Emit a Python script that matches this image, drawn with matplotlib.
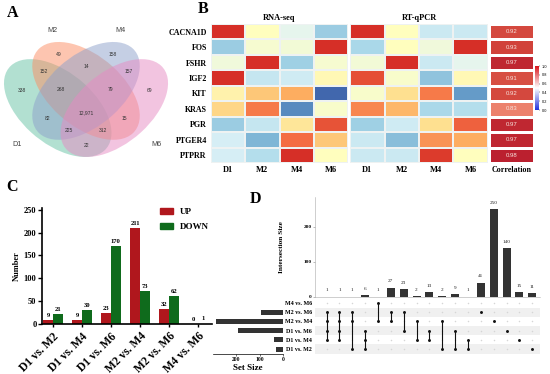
import numpy as np
import matplotlib
matplotlib.use('Agg')
import matplotlib.pyplot as plt
from matplotlib.patches import Ellipse, Patch
from matplotlib.colors import LinearSegmentedColormap, Normalize
import matplotlib.colorbar as mcolorbar

plt.rcParams['font.family'] = ['Liberation Serif', 'DejaVu Serif']
plt.rcParams['font.weight'] = 'bold'
plt.rcParams['axes.labelweight'] = 'bold'

# ---------------- data ----------------
venn_sets = ['D1', 'M2', 'M4', 'M6']
venn_regions = [(1, 0, 0, 0), (0, 1, 0, 0), (0, 0, 1, 0), (0, 0, 0, 1),
                (1, 1, 0, 0), (0, 1, 1, 0), (0, 0, 1, 1), (1, 1, 1, 0),
                (0, 1, 1, 1), (1, 1, 1, 1), (1, 0, 1, 0), (0, 1, 0, 1),
                (1, 0, 1, 1), (1, 1, 0, 1), (1, 0, 0, 1)]
venn_counts = [338, 49, 158, 69, 152, 14, 157, 268, 79, 12971, 82, 15, 225, 312, 22]

heat_genes = ['CACNA1D', 'FOS', 'FSHR', 'IGF2', 'KIT', 'KRAS', 'PGR', 'PTGER4', 'PTPRR']
heat_samples = ['D1', 'M2', 'M4', 'M6']
rnaseq = [[0.90, 0.50, 0.42, 0.27],
          [0.27, 0.47, 0.46, 0.90],
          [0.45, 0.90, 0.28, 0.47],
          [0.90, 0.35, 0.37, 0.52],
          [0.54, 0.65, 0.70, 0.08],
          [0.62, 0.78, 0.14, 0.48],
          [0.27, 0.35, 0.58, 0.84],
          [0.38, 0.22, 0.80, 0.65],
          [0.38, 0.32, 0.90, 0.50]]
rtqpcr = [[0.90, 0.50, 0.36, 0.36],
          [0.30, 0.50, 0.45, 0.90],
          [0.46, 0.90, 0.36, 0.42],
          [0.85, 0.48, 0.25, 0.52],
          [0.48, 0.60, 0.78, 0.17],
          [0.76, 0.68, 0.30, 0.32],
          [0.28, 0.37, 0.60, 0.82],
          [0.36, 0.24, 0.74, 0.70],
          [0.36, 0.36, 0.88, 0.50]]
correlation = [0.92, 0.93, 0.97, 0.91, 0.92, 0.83, 0.97, 0.97, 0.98]

deg_comparisons = ['D1 vs. M2', 'D1 vs. M4', 'D1 vs. M6', 'M2 vs. M4', 'M2 vs. M6', 'M4 vs. M6']
deg_up = [9, 9, 23, 211, 32, 0]
deg_down = [21, 30, 170, 73, 62, 1]

upset_sets = ['D1 vs. M2', 'D1 vs. M4', 'D1 vs. M6', 'M2 vs. M4', 'M2 vs. M6', 'M4 vs. M6']
set_sizes = [30, 39, 193, 284, 94, 1]
upset_members = [
    ['M2 vs. M6', 'M2 vs. M4', 'D1 vs. M6', 'D1 vs. M4'],
    ['M2 vs. M6', 'M2 vs. M4', 'D1 vs. M6', 'D1 vs. M4'],
    ['M2 vs. M6', 'M2 vs. M4', 'D1 vs. M2'],
    ['D1 vs. M6', 'D1 vs. M4', 'D1 vs. M2'],
    ['M4 vs. M6', 'M2 vs. M4'],
    ['M2 vs. M6', 'M2 vs. M4'],
    ['M2 vs. M6', 'D1 vs. M6'],
    ['M2 vs. M4', 'D1 vs. M4'],
    ['D1 vs. M6', 'D1 vs. M4'],
    ['M2 vs. M4', 'D1 vs. M2'],
    ['D1 vs. M6', 'D1 vs. M2'],
    ['D1 vs. M4', 'D1 vs. M2'],
    ['M2 vs. M6'], ['M2 vs. M4'], ['D1 vs. M6'], ['D1 vs. M4'], ['D1 vs. M2']]
upset_sizes = [1, 1, 1, 6, 1, 27, 23, 2, 13, 2, 9, 1, 41, 250, 140, 15, 11]

# ---------------- figure ----------------
W, H = 550, 374
fig = plt.figure(figsize=(W / 100, H / 100), dpi=100)


def ax_px(l, t, w, h):
    return fig.add_axes([l / W, 1 - (t + h) / H, w / W, h / H])


# ---------------- Panel A : Venn ----------------
axA = ax_px(0, 0, 195, 190)
axA.set_xlim(0.0438, 1.078)
axA.set_ylim(-0.0076, 1.0997)
axA.axis('off')
venn_colors = ['#66c2a5', '#fc8d62', '#8da0cb', '#e78ac3']
ell_geom = [((0.35, 0.47), -45), ((0.50, 0.57), -45), ((0.50, 0.57), 45), ((0.65, 0.47), 45)]
ea, eb = 0.35, 0.20
for (c, ang), col in zip(ell_geom, venn_colors):
    axA.add_patch(Ellipse(c, 2 * ea, 2 * eb, angle=ang, facecolor=col, alpha=0.5, lw=0))


def inside(X, Y, c, ang):
    t = np.deg2rad(ang)
    dx, dy = X - c[0], Y - c[1]
    u = dx * np.cos(t) + dy * np.sin(t)
    v = -dx * np.sin(t) + dy * np.cos(t)
    return (u / ea) ** 2 + (v / eb) ** 2 <= 1


gx = np.linspace(0, 1, 377)
gy = np.linspace(0, 1, 343)
GX, GY = np.meshgrid(gx, gy)
masks = [inside(GX, GY, c, a) for c, a in ell_geom]
for reg, n in zip(venn_regions, venn_counts):
    m = np.ones_like(GX, dtype=bool)
    for k, f in enumerate(reg):
        m &= masks[k] if f else ~masks[k]
    prev = m
    while m.any():
        prev = m
        e = m.copy()
        e[1:, :] &= m[:-1, :]
        e[:-1, :] &= m[1:, :]
        e[:, 1:] &= m[:, :-1]
        e[:, :-1] &= m[:, 1:]
        e[0, :] = e[-1, :] = False
        e[:, 0] = e[:, -1] = False
        m = e
    axA.text(GX[prev].mean(), GY[prev].mean(), f'{n:,}', ha='center', va='center',
             fontsize=3.6, family='Liberation Sans', fontweight='normal', color='#333333')

for name, (tx, ty) in zip(venn_sets, [(0.085, 0.237), (0.267, 0.837), (0.62, 0.837), (0.80, 0.237)]):
    axA.text(tx, ty, name, transform=axA.transAxes, ha='center', va='center',
             fontsize=5.2, family='Liberation Sans', fontweight='normal', color='#444444')

# ---------------- Panel B : heatmap ----------------
cmap_h = plt.get_cmap('RdYlBu_r')
axR = ax_px(211, 24, 137, 139)
axQ = ax_px(350, 24, 138, 139)
axK = ax_px(489, 24, 45, 139)
for ax, dat, title in [(axR, rnaseq, 'RNA-seq'), (axQ, rtqpcr, 'RT-qPCR')]:
    ax.pcolormesh(np.array(dat), cmap=cmap_h, vmin=0, vmax=1, edgecolors='#eef2f2', linewidth=0.3)
    ax.set_ylim(len(heat_genes), 0)
    ax.set_xticks(np.arange(len(heat_samples)) + 0.5)
    ax.set_xticklabels(heat_samples, fontsize=6)
    ax.set_yticks([])
    ax.tick_params(length=0, pad=2)
    ax.set_title(title, fontsize=6, pad=3, fontweight='bold')
    for s in ax.spines.values():
        s.set_visible(False)
axR.set_yticks(np.arange(len(heat_genes)) + 0.5)
axR.set_yticklabels(heat_genes, fontsize=5.8)
axR.tick_params(axis='y', length=0, pad=3)

cmap_c = LinearSegmentedColormap.from_list('corr', ['#f4a08a', '#e8735e', '#d2443b', '#b3132a'])
axK.pcolormesh(np.array(correlation).reshape(-1, 1), cmap=cmap_c, vmin=0.78, vmax=1.0,
               edgecolors='white', linewidth=0.8)
axK.set_ylim(len(heat_genes), 0)
for i, v in enumerate(correlation):
    axK.text(0.5, i + 0.5, f'{v:.2f}', ha='center', va='center', fontsize=4.3,
             family='Liberation Sans', fontweight='normal', color='#f6e2dc')
axK.set_xticks([0.5])
axK.set_xticklabels(['Correlation'], fontsize=5.8)
axK.set_yticks([])
axK.tick_params(length=0, pad=2)
for s in axK.spines.values():
    s.set_visible(False)

cax = ax_px(535, 66, 4, 44)
cmap_bar = LinearSegmentedColormap.from_list('cb', ['#2233dd', '#ffffff', '#d8141c'])
cb = mcolorbar.ColorbarBase(cax, cmap=cmap_bar, norm=Normalize(0, 1), ticks=np.arange(0, 1.01, 0.2))
cb.outline.set_visible(False)
cax.tick_params(labelsize=2.8, length=1, width=0.3, pad=1)
cax.set_yticklabels([f'{t:.1f}' for t in np.arange(0, 1.01, 0.2)], fontweight='normal',
                    family='Liberation Sans')

# ---------------- Panel C : bar chart ----------------
up_col, down_col = '#b0171d', '#0f6b1c'
axC = ax_px(42, 208, 170, 116)
x = np.arange(len(deg_comparisons))
bw = 0.33
b1 = axC.bar(x - bw / 2, deg_up, bw, color=up_col, label='UP')
b2 = axC.bar(x + bw / 2, deg_down, bw, color=down_col, label='DOWN')
axC.bar_label(b1, padding=1.5, fontsize=4.8)
axC.bar_label(b2, padding=1.5, fontsize=4.8)
axC.set_xlim(-0.38, 5.48)
axC.set_ylim(0, 254)
axC.set_yticks(np.arange(0, 251, 50))
axC.set_xticks(x)
axC.set_xticklabels(deg_comparisons, rotation=45, ha='right', rotation_mode='anchor', fontsize=8.3)
axC.tick_params(axis='y', labelsize=6, length=3, width=1, pad=1)
axC.tick_params(axis='x', length=2.5, width=1, pad=2)
for s in ['top', 'right']:
    axC.spines[s].set_visible(False)
for s in ['left', 'bottom']:
    axC.spines[s].set_linewidth(1.2)
axC.set_ylabel('Number', fontsize=6, labelpad=2)
axC.legend(handles=[Patch(color=up_col), Patch(color=down_col)], labels=['UP', 'DOWN'],
           loc='upper left', bbox_to_anchor=(0.694, 1.0), frameon=False, fontsize=6.5,
           handlelength=1.45, handleheight=0.6, labelspacing=0.75, handletextpad=0.75,
           borderpad=0, borderaxespad=0)

# ---------------- Panel D : UpSet ----------------
ncol = len(upset_sizes)
xl = (-0.9, ncol - 0.4)
axI = ax_px(315, 197, 225, 100)
cols = np.arange(ncol)
bI = axI.bar(cols, upset_sizes, 0.62, color='#333333')
axI.bar_label(bI, padding=3, fontsize=3.8, fontweight='normal', color='#222222')
axI.set_xlim(*xl)
axI.set_ylim(0, 285)
axI.set_yticks([0, 100, 200])
axI.set_xticks([])
axI.tick_params(axis='y', labelsize=3.8, length=1.5, width=0.4, pad=1, color='#888888')
for s in ['top', 'right']:
    axI.spines[s].set_visible(False)
for s in ['left', 'bottom']:
    axI.spines[s].set_linewidth(0.4)
    axI.spines[s].set_color('#aaaaaa')
axI.set_ylabel('Intersection Size', fontsize=5.3, labelpad=14)

axM = ax_px(315, 298, 225, 56)
axM.set_xlim(*xl)
axM.set_ylim(-0.54, len(upset_sets) - 0.45)
for j in range(0, len(upset_sets), 2):
    axM.axhspan(j - 0.5, j + 0.5, color='#f0f0f0', lw=0)
gxm, gym = np.meshgrid(cols, np.arange(len(upset_sets)))
axM.scatter(gxm.ravel(), gym.ravel(), s=1.2, color='#d6d6d6', lw=0, zorder=2)
for i, mem in enumerate(upset_members):
    rows = [upset_sets.index(m) for m in mem]
    if len(rows) > 1:
        axM.plot([i, i], [min(rows), max(rows)], color='#111111', lw=0.8, zorder=3)
    axM.scatter([i] * len(rows), rows, s=4.5, color='#111111', lw=0, zorder=4)
axM.set_xticks([])
axM.set_yticks(np.arange(len(upset_sets)))
axM.set_yticklabels(upset_sets, fontsize=4.3)
axM.tick_params(axis='y', length=0, pad=2)
for s in axM.spines.values():
    s.set_visible(False)

axS = ax_px(213, 298, 70, 56)
axS.barh(np.arange(len(upset_sets)), set_sizes, 0.55, color='#333333')
axS.set_xlim(298, 0)
axS.set_ylim(-0.54, len(upset_sets) - 0.45)
axS.set_yticks([])
axS.set_xticks([200, 100, 0])
axS.tick_params(axis='x', labelsize=4, length=1.5, width=0.4, pad=1)
for s in ['top', 'right', 'left']:
    axS.spines[s].set_visible(False)
axS.spines['bottom'].set_linewidth(0.5)
axS.set_xlabel('Set Size', fontsize=6.5, labelpad=1)

# ---------------- panel letters ----------------
for lab, (px, py) in zip('ABCD', [(12.5, 13), (203, 9), (12, 187), (255, 199)]):
    fig.text(px / W, 1 - py / H, lab, ha='center', va='center', fontsize=11.5, fontweight='bold')

fig.savefig('out.png', dpi=100)
